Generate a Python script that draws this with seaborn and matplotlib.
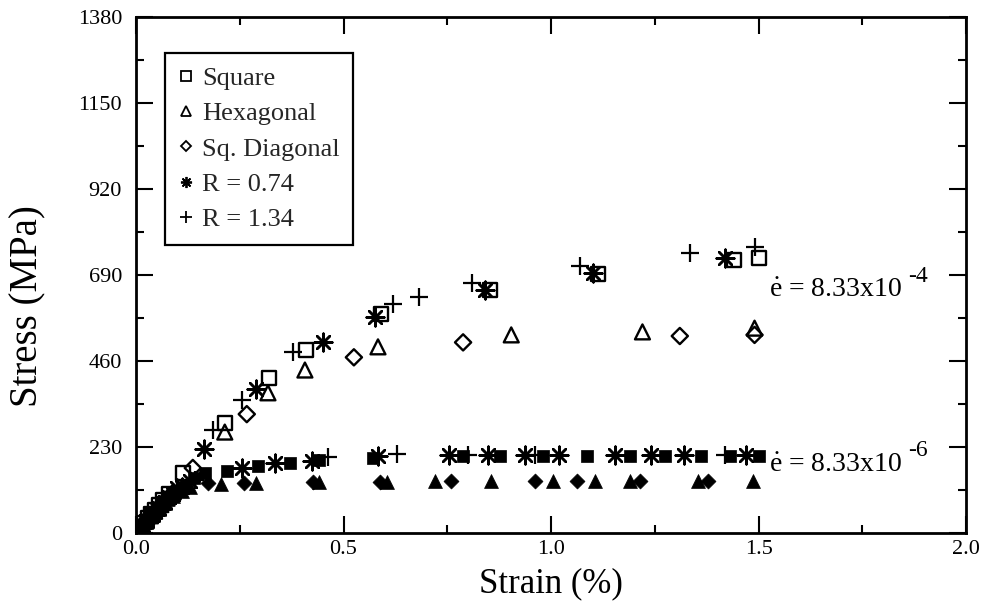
import numpy as np
import pandas as pd
import matplotlib
matplotlib.use("Agg")
import matplotlib.pyplot as plt
import seaborn as sns
from matplotlib.lines import Line2D
from matplotlib.ticker import MultipleLocator, FixedLocator

# ---------------- data ----------------
# high strain rate (open markers), e = 8.33x10^-4
sq_hi_x = [0.005, 0.012, 0.02, 0.028, 0.036, 0.045, 0.055, 0.065, 0.08, 0.113, 0.214, 0.32, 0.41, 0.59, 0.853, 1.113, 1.44, 1.50]
sq_hi_y = [7, 17, 28, 39, 50, 62, 75, 88, 105, 160, 294, 414, 489, 586, 650, 693, 730, 735]
hx_hi_x = [0.006, 0.015, 0.025, 0.035, 0.045, 0.06, 0.075, 0.09, 0.214, 0.318, 0.407, 0.583, 0.904, 1.22, 1.49]
hx_hi_y = [8, 20, 33, 46, 58, 76, 93, 110, 270, 375, 436, 498, 530, 538, 548]
dg_hi_x = [0.008, 0.018, 0.03, 0.042, 0.055, 0.07, 0.09, 0.137, 0.267, 0.525, 0.788, 1.31, 1.49]
dg_hi_y = [10, 23, 38, 53, 68, 86, 108, 174, 318, 470, 510, 527, 530]
r74_hi_x = [0.007, 0.016, 0.026, 0.038, 0.05, 0.065, 0.08, 0.1, 0.164, 0.29, 0.45, 0.576, 0.84, 1.10, 1.42]
r74_hi_y = [9, 21, 34, 49, 63, 80, 97, 120, 225, 385, 511, 578, 650, 695, 735]
r134_hi_x = [0.009, 0.02, 0.032, 0.045, 0.06, 0.078, 0.1, 0.186, 0.255, 0.378, 0.62, 0.682, 0.81, 1.07, 1.335, 1.49]
r134_hi_y = [12, 26, 41, 57, 74, 95, 118, 275, 356, 484, 612, 631, 669, 714, 749, 765]

# low strain rate (filled markers), e = 8.33x10^-6
sq_lo_x = [0.01, 0.022, 0.035, 0.05, 0.065, 0.08, 0.095, 0.11, 0.14, 0.166, 0.219, 0.294, 0.371, 0.44, 0.571,
           0.788, 0.877, 0.98, 1.087, 1.19, 1.275, 1.36, 1.43, 1.50]
sq_lo_y = [13, 28, 44, 62, 79, 95, 110, 124, 148, 160, 166, 179, 187, 195, 200,
           207, 207, 207, 207, 207, 207, 207, 207, 207]
hx_lo_x = [0.01, 0.025, 0.04, 0.055, 0.07, 0.09, 0.11, 0.13, 0.205, 0.289, 0.44, 0.605,
           0.72, 0.855, 1.005, 1.106, 1.19, 1.354, 1.487]
hx_lo_y = [12, 30, 48, 64, 80, 98, 112, 123, 131, 134, 136, 136,
           140, 140, 140, 140, 140, 140, 140]
dg_lo_x = [0.013, 0.028, 0.043, 0.06, 0.075, 0.095, 0.173, 0.26, 0.427, 0.588, 0.76, 0.96, 1.062, 1.214, 1.378]
dg_lo_y = [16, 34, 51, 70, 86, 104, 134, 134, 136, 136, 140, 140, 140, 140, 140]
r74_lo_x = [0.012, 0.025, 0.04, 0.055, 0.07, 0.09, 0.11, 0.13, 0.255, 0.335, 0.424, 0.583,
            0.754, 0.848, 0.937, 1.02, 1.154, 1.24, 1.32, 1.47]
r74_lo_y = [15, 31, 50, 67, 84, 104, 122, 138, 174, 187, 193, 206,
            209, 209, 209, 209, 209, 209, 209, 209]
r134_lo_x = [0.015, 0.03, 0.045, 0.06, 0.08, 0.1, 0.142, 0.463, 0.63, 0.80, 0.96, 1.42]
r134_lo_y = [19, 37, 55, 72, 93, 112, 142, 203, 211, 209, 209, 209]

legend_labels = ["Square", "Hexagonal", "Sq. Diagonal", "R = 0.74", "R = 1.34"]
rate_base = r"$\dot{\mathrm{e}}$ = 8.33x10"
rate_exps = ["-4", "-6"]
x_ticks = [0.0, 0.5, 1.0, 1.5, 2.0]
y_ticks = [0, 230, 460, 690, 920, 1150, 1380]

# ---------------- style ----------------
sns.set_theme(style="ticks")
plt.rcParams["font.family"] = ["Liberation Serif", "DejaVu Serif"]
plt.rcParams["mathtext.fontset"] = "custom"
plt.rcParams["mathtext.rm"] = "Liberation Serif"
plt.rcParams["mathtext.it"] = "Liberation Serif:italic"

fig = plt.figure(figsize=(9.85, 6.13), dpi=100)
ax = fig.add_axes([0.138, 0.1305, 0.843, 0.8415])

AST = (8, 2, 0)
k = "black"

# open markers (high rate)
sns.scatterplot(x=sq_hi_x, y=sq_hi_y, ax=ax, marker="s", s=100, facecolor="none", edgecolor=k, linewidth=1.7)
sns.scatterplot(x=hx_hi_x, y=hx_hi_y, ax=ax, marker="^", s=115, facecolor="none", edgecolor=k, linewidth=1.7)
sns.scatterplot(x=dg_hi_x, y=dg_hi_y, ax=ax, marker="D", s=68, facecolor="none", edgecolor=k, linewidth=1.7)
sns.scatterplot(x=r74_hi_x, y=r74_hi_y, ax=ax, marker=AST, s=160, color=k, linewidth=1.8)
sns.scatterplot(x=r134_hi_x, y=r134_hi_y, ax=ax, marker="+", s=160, color=k, linewidth=1.6)

# filled markers (low rate)
sns.scatterplot(x=sq_lo_x, y=sq_lo_y, ax=ax, marker="s", s=85, color=k, edgecolor=k, linewidth=0.5)
sns.scatterplot(x=hx_lo_x, y=hx_lo_y, ax=ax, marker="^", s=100, color=k, edgecolor=k, linewidth=0.5)
sns.scatterplot(x=dg_lo_x, y=dg_lo_y, ax=ax, marker="D", s=58, color=k, edgecolor=k, linewidth=0.5)
sns.scatterplot(x=r74_lo_x, y=r74_lo_y, ax=ax, marker=AST, s=160, color=k, linewidth=1.8)
sns.scatterplot(x=r134_lo_x, y=r134_lo_y, ax=ax, marker="+", s=160, color=k, linewidth=1.6)

ax.set_xlim(0, 2.0)
ax.set_ylim(0, 1380)
ax.xaxis.set_major_locator(FixedLocator(x_ticks))
ax.yaxis.set_major_locator(FixedLocator(y_ticks))
ax.set_xticklabels([f"{v:.1f}" for v in x_ticks])
ax.set_yticklabels([str(v) for v in y_ticks])
ax.xaxis.set_minor_locator(MultipleLocator(0.25))
ax.yaxis.set_minor_locator(MultipleLocator(115))
ax.tick_params(which="both", direction="in", top=True, right=True, colors=k, labelsize=16, width=1.5)
ax.tick_params(which="major", length=12)
ax.tick_params(which="minor", length=6)
ax.tick_params(axis="y", which="major", pad=10)
ax.tick_params(axis="x", which="major", pad=5)
for sp in ax.spines.values():
    sp.set_visible(True)
    sp.set_color(k)
    sp.set_linewidth(2.0)

ax.set_xlabel("Strain (%)", fontsize=25, color=k)
ax.set_ylabel("Stress (MPa)", fontsize=28, color=k)
ax.xaxis.set_label_coords(0.5, -0.066)
ax.yaxis.set_label_coords(-0.108, 0.44)

# annotations: strain-rate labels
ax.text(1.525, 650, rate_base, fontsize=20, color=k, va="center", ha="left")
ax.text(1.860, 687, rate_exps[0], fontsize=17, color=k, va="center", ha="left")
ax.text(1.525, 180, rate_base, fontsize=20, color=k, va="center", ha="left")
ax.text(1.860, 222, rate_exps[1], fontsize=17, color=k, va="center", ha="left")

# legend
handles = [
    Line2D([], [], ls="none", marker="s", ms=7, mfc="none", mec=k, mew=1.3),
    Line2D([], [], ls="none", marker="^", ms=7, mfc="none", mec=k, mew=1.3),
    Line2D([], [], ls="none", marker="D", ms=5, mfc="none", mec=k, mew=1.3),
    Line2D([], [], ls="none", marker=AST, ms=8, color=k, mew=1.3),
    Line2D([], [], ls="none", marker="+", ms=8, color=k, mew=1.3),
]
leg = ax.legend(handles, legend_labels, loc="upper left", bbox_to_anchor=(0.035, 0.93),
                borderaxespad=0, frameon=True, fancybox=False, framealpha=1,
                edgecolor=k, fontsize=19, handlelength=0.6, handletextpad=0.3,
                labelspacing=0.45, borderpad=0.5)
leg.get_frame().set_linewidth(1.6)

fig.savefig("out.png", dpi=100)
